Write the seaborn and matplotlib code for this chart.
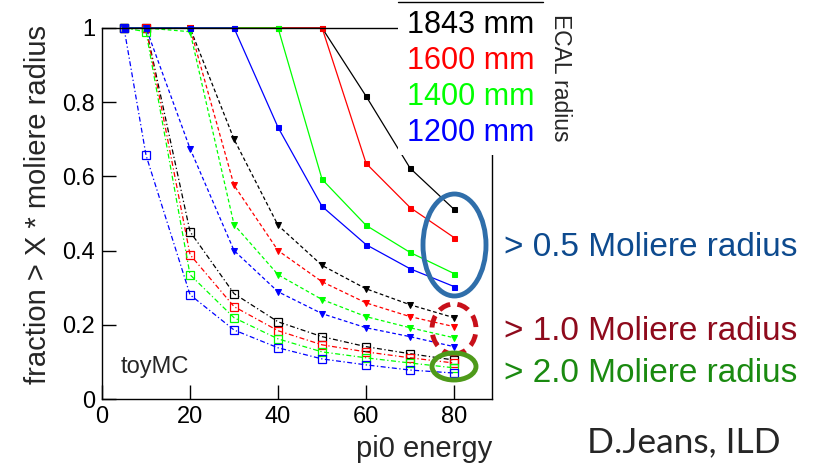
import numpy as np
import pandas as pd
import matplotlib
matplotlib.use("Agg")
import matplotlib.pyplot as plt
from matplotlib.patches import Ellipse, Rectangle
from matplotlib.ticker import FuncFormatter
import seaborn as sns

## data
energy = [5, 10, 20, 30, 40, 50, 60, 70, 80]
radii = ["1843 mm", "1600 mm", "1400 mm", "1200 mm"]
radius_colors = ["#000000", "#ff0000", "#00ff00", "#0000ff"]

# fraction beyond 0.5 moliere radius (solid, filled squares)
frac_05_1843 = [1, 1, 1, 1, 1, 1, 0.816, 0.622, 0.511]
frac_05_1600 = [1, 1, 1, 1, 1, 1, 0.635, 0.516, 0.435]
frac_05_1400 = [1, 1, 1, 1, 1, 0.592, 0.468, 0.395, 0.338]
frac_05_1200 = [1, 1, 1, 1, 0.732, 0.519, 0.416, 0.351, 0.303]

# beyond 1.0 moliere radius (dashed, triangles)
frac_10_1843 = [1, 1, 1, 0.700, 0.468, 0.360, 0.297, 0.254, 0.219]
frac_10_1600 = [1, 1, 1, 0.576, 0.400, 0.316, 0.259, 0.222, 0.195]
frac_10_1400 = [1, 1, 0.99, 0.470, 0.335, 0.268, 0.222, 0.192, 0.165]
frac_10_1200 = [1, 1, 0.675, 0.400, 0.289, 0.230, 0.192, 0.168, 0.141]

# beyond 2.0 moliere radius (dash-dot, open squares)
frac_20_1843 = [1, 1, 0.451, 0.284, 0.208, 0.168, 0.141, 0.122, 0.105]
frac_20_1600 = [1, 1, 0.389, 0.249, 0.184, 0.146, 0.127, 0.111, 0.097]
frac_20_1400 = [1, 0.99, 0.335, 0.219, 0.162, 0.127, 0.111, 0.097, 0.084]
frac_20_1200 = [1, 0.657, 0.281, 0.186, 0.138, 0.108, 0.092, 0.078, 0.070]

thresholds = ["> 0.5 Moliere radius", "> 1.0 Moliere radius", "> 2.0 Moliere radius"]
threshold_colors = ["#0d4a8e", "#8e0a1c", "#1a8a10"]

series = {
    0: [frac_05_1843, frac_05_1600, frac_05_1400, frac_05_1200],
    1: [frac_10_1843, frac_10_1600, frac_10_1400, frac_10_1200],
    2: [frac_20_1843, frac_20_1600, frac_20_1400, frac_20_1200],
}

W, H = 821, 468
def fx(px):
    return px / W
def fy(py):
    return 1 - py / H

sns.set_style("ticks")
plt.rcParams['font.family'] = ['Liberation Sans', 'DejaVu Sans']

fig = plt.figure(figsize=(W / 100, H / 100), dpi=100)
ax = fig.add_axes([fx(102), fy(399), fx(492) - fx(102), fy(28) - fy(399)])

# line style / marker per threshold
styles = [
    dict(linestyle='-', marker='s', markersize=3.6, lw=0.9),
    dict(linestyle=(0, (3, 2)), marker='v', markersize=5, lw=0.9),
    dict(linestyle=(0, (4, 2, 1, 2)), marker='s', markersize=6, lw=0.9, mfc='none', mew=0.9),
]

for t in [2, 1, 0]:
    for vals, col in zip(series[t], radius_colors):
        df = pd.DataFrame({'energy': energy, 'fraction': vals})
        kw = dict(styles[t])
        if 'mfc' not in kw:
            kw['mfc'] = col
        sns.lineplot(data=df, x='energy', y='fraction', color=col, mec=col,
                     clip_on=False, ax=ax, **kw)

ax.set_xlim(0, 88.6)
ax.set_ylim(0, 1.0)
ax.set_xticks([0, 20, 40, 60, 80])
ax.set_yticks([0, 0.2, 0.4, 0.6, 0.8, 1.0])
ax.yaxis.set_major_formatter(FuncFormatter(lambda v, p: "%g" % round(v, 2)))
ax.tick_params(direction='in', length=10, width=1, labelsize=17, pad=5,
               top=False, right=False, colors='black')
for s in ax.spines.values():
    s.set_visible(True)
    s.set_color('black')
    s.set_linewidth(1)

ax.set_xlabel("pi0 energy", fontsize=21, loc='right')
ax.xaxis.set_label_coords(1.0, -0.098)
ax.set_ylabel("fraction > X * moliere radius", fontsize=21, loc='top')
ax.yaxis.set_label_coords(-0.128, 1.008)

ax.text(0.047, 0.087, "toyMC", transform=ax.transAxes, fontsize=17, va='center', ha='left')

# legend box (white, covers the top right of the frame)
fig.patches.append(Rectangle((fx(398), fy(155)), fx(545) - fx(398), fy(2) - fy(155),
                             transform=fig.transFigure, facecolor='white', edgecolor='none', zorder=5))
fig.lines.append(plt.Line2D([fx(398), fx(543)], [fy(2), fy(2)], transform=fig.transFigure,
                            color='black', lw=1, zorder=6))
for i, (lab, col) in enumerate(zip(radii, radius_colors)):
    fig.text(fx(407), fy(25 + 36 * i), lab, color=col, fontsize=22, ha='left', va='center', zorder=7)
fig.text(fx(560), fy(78), "ECAL radius", rotation=-90, fontsize=16.5, ha='center', va='center', zorder=7)

# ellipses on the slide
fig.patches.append(Ellipse((fx(454.5), fy(245)), 63 / W, 102 / H, transform=fig.transFigure,
                           fill=False, edgecolor='#2f6eaa', lw=3.5, zorder=8))
fig.patches.append(Ellipse((fx(454), fy(329)), 44 / W, 50 / H, transform=fig.transFigure,
                           fill=False, edgecolor='#c8101a', lw=3.5, linestyle=(0, (2.5, 1.5)), zorder=8))
fig.patches.append(Ellipse((fx(454), fy(366.5)), 44 / W, 27 / H, transform=fig.transFigure,
                           fill=False, edgecolor='#4e9a1a', lw=3.5, zorder=8))

for lab, col, y in zip(thresholds, threshold_colors, [248, 331, 373]):
    fig.text(fx(504), fy(y), lab, color=col, fontsize=24, ha='left', va='center')

fig.text(fx(587), fy(442), "D.Jeans, ILD", fontsize=25.5, ha='left', va='center',
         family=['Lato', 'DejaVu Sans'])

fig.savefig("out.png", dpi=100)
